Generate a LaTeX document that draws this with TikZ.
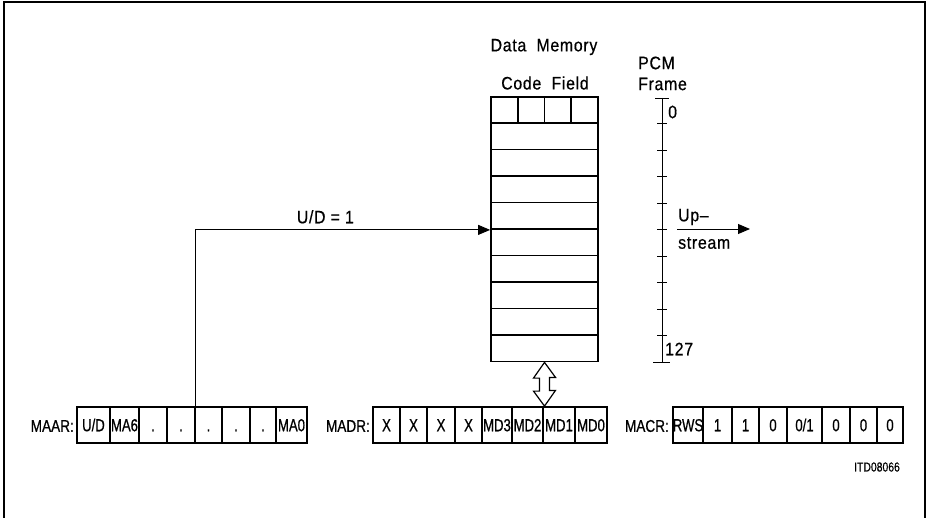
\documentclass[tikz,border=0pt]{standalone}
\usepackage{fontspec}
\setmainfont{Liberation Sans}[FakeStretch=0.88,LetterSpace=4,FakeBold=0.6]
\newfontfamily\condfont{Liberation Sans}[FakeStretch=0.75,FakeBold=0.7]
\newfontfamily\regfont{Liberation Sans}[FakeStretch=0.8,FakeBold=0.6]
\usetikzlibrary{arrows.meta}
\begin{document}
\begin{tikzpicture}[x=1pt,y=-1pt,
  lbl/.style={inner sep=0pt, font=\fontsize{18}{21}\selectfont},
  reglbl/.style={inner sep=0pt, font=\regfont\fontsize{17}{20}\selectfont},
  celltxt/.style={font=\condfont\fontsize{17.5}{20}\selectfont, text height=12.5pt, text depth=0pt},
  regcell/.style={draw, line width=1.8pt, inner sep=0pt, minimum height=36pt, celltxt},
  memrow/.style={draw, line width=1.8pt, inner sep=0pt, minimum width=107pt, minimum height=26.5pt},
  memcell/.style={draw, line width=1.8pt, inner sep=0pt, minimum width=26.75pt, minimum height=26pt},
  thin/.style={line width=0.9pt},
  tip/.style={-{Triangle[length=12pt,width=10pt]}}]
\useasboundingbox (0,0) rectangle (928,518);
% frame
\draw[line width=1.4pt] (4,518) -- (4,2) -- (925,2) -- (925,518);

% titles
\node[lbl] (dmtitle) at (544,47) {Data\ \ Memory};
\node[lbl] (cftitle) at (545,83) {Code\ \ Field};
\node[lbl, anchor=west] (pcm) at (638,63) {PCM};
\node[lbl, anchor=west] (frame) at (638,84) {Frame};

% memory header cells
\foreach \i in {1,...,4}{
  \node[memcell] (hc\i) at ({491+26.75*(\i-0.5)},110) {};
}
% memory rows
\foreach \i in {1,...,9}{
  \node[memrow] (row\i) at (544.5,{123+26.5*(\i-0.5)}) {};
}

% PCM frame scale
\coordinate (stop) at (662,98);
\coordinate (sbot) at (662,362);
\draw[thin] (stop) -- (sbot);
\draw[thin] ([xshift=-7pt]stop) -- ([xshift=7pt]stop);
\draw[thin] ([xshift=-9pt]sbot) -- ([xshift=8pt]sbot);
\foreach \i in {1,...,9}{
  \draw[thin] (657,{97+26.5*\i}) -- (667,{97+26.5*\i});
}
\node[lbl, anchor=west] (zero) at (668,112) {0};
\node[lbl, anchor=west] (last) at (665,349) {127};

% upstream arrow
\coordinate (upstart) at (677,229);
\coordinate (upend) at (750,229);
\draw[thin, tip] (upstart) -- (upend);
\node[lbl, anchor=west] (up) at (678,217) {Up--};
\node[lbl, anchor=west] (stream) at (678,243) {stream};

% MAAR register
\node[reglbl, anchor=east] (maarlbl) at (74,426) {MAAR:};
\foreach \a/\b/\t/\n in {77/110/{U/D}/1, 110/139/MA6/2, 139/167/./3, 167/195/./4, 195/222/./5, 222/250/./6, 250/276/./7, 276/307/MA0/8}{
  \node[regcell, minimum width={\b-\a}] (maar\n) at ({(\a+\b)/2},425) {\t};
}
% MADR register
\node[reglbl, anchor=east] (madrlbl) at (370,426) {MADR:};
\foreach \a/\b/\t/\n in {373/400/X/1, 400/427/X/2, 427/455/X/3, 455/482/X/4, 482/512/MD3/5, 512/543/MD2/6, 543/575/MD1/7, 575/607/MD0/8}{
  \node[regcell, minimum width={\b-\a}] (madr\n) at ({(\a+\b)/2},425) {\t};
}
% MACR register
\node[reglbl, anchor=east] (macrlbl) at (669,426) {MACR:};
\foreach \a/\b/\t/\n in {673/703/RWS/1, 703/732/1/2, 732/759/1/3, 759/787/0/4, 787/822/{0/1}/5, 822/850/0/6, 850/877/0/7, 877/903/0/8}{
  \node[regcell, minimum width={\b-\a}] (macr\n) at ({(\a+\b)/2},425) {\t};
}
\node[inner sep=0pt, font=\regfont\fontsize{13}{15}\selectfont] (itd) at (877,467) {ITD08066};

% U/D = 1 connector
\draw[thin, tip] (maar4.north east) |- (row4.south west)
  node[pos=0.72, above=6pt, lbl] (udlbl) {U/D = 1};

% hollow double arrow between memory and MADR
\draw[line width=1.2pt, fill=white]
  (row9.south) -- ++(11,15) -- ++(-6,0) -- ++(0,13) -- ++(6,0)
  -- (row9.south |- madr7.north) -- ++(-11,-15) -- ++(6,0) -- ++(0,-13) -- ++(-6,0) -- cycle;
\end{tikzpicture}
\end{document}
